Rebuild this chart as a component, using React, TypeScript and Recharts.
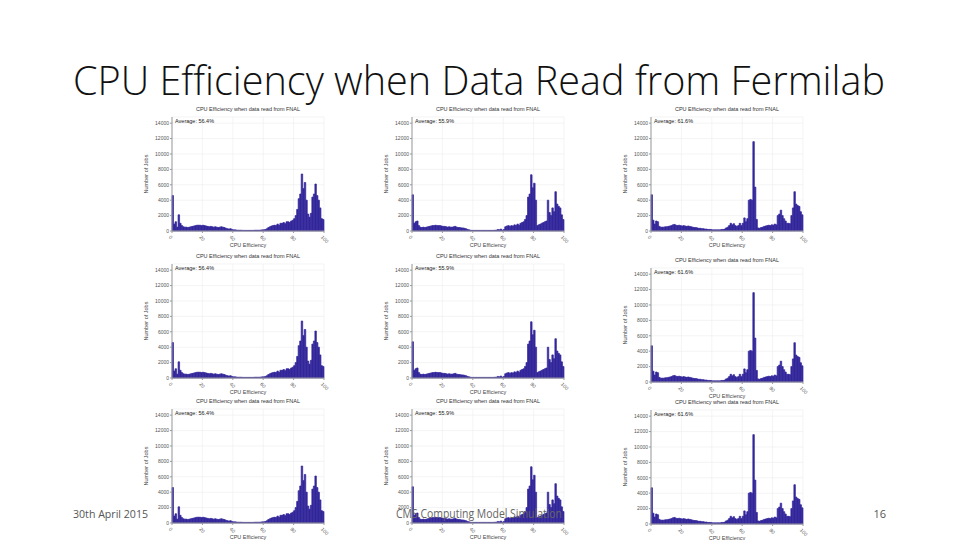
import React from 'react';
import { BarChart, Bar, XAxis, YAxis, CartesianGrid } from 'recharts';

const binCenters = Array.from({ length: 100 }, (_, i) => i + 0.5);
const xTicks = [0, 20, 40, 60, 80, 100];
const yTicks = [0, 2000, 4000, 6000, 8000, 10000, 12000, 14000];

const jobsCol1 = [
  4600, 900, 1200, 500, 2100, 1000, 700, 550, 500, 500,
  450, 500, 550, 600, 650, 700, 750, 750, 750, 700,
  750, 700, 650, 600, 550, 600, 550, 500, 550, 500,
  450, 500, 550, 500, 450, 350, 300, 250, 300, 200,
  150, 150, 120, 100, 100, 100, 80, 80, 80, 80,
  80, 80, 80, 80, 100, 100, 100, 100, 120, 150,
  150, 200, 300, 450, 550, 650, 700, 750, 700, 900,
  750, 1000, 1000, 1100, 950, 1200, 1200, 1100, 1300, 1400,
  1600, 2000, 2800, 4200, 4800, 7400, 5500, 6300, 4000, 2200,
  1800, 2300, 4400, 4800, 6100, 4600, 4000, 3000, 1600, 1500,
];

const jobsCol2 = [
  4700, 1000, 1200, 1300, 700, 500, 450, 500, 450, 500,
  550, 600, 650, 700, 700, 750, 700, 700, 700, 650,
  600, 600, 550, 500, 550, 500, 500, 550, 600, 500,
  450, 450, 400, 400, 350, 300, 200, 150, 100, 80,
  80, 80, 80, 80, 80, 80, 80, 80, 80, 80,
  80, 80, 80, 80, 100, 100, 200, 150, 250, 100,
  200, 550, 650, 700, 600, 700, 650, 800, 700, 900,
  750, 1000, 1100, 1200, 1500, 2000, 4400, 4800, 7300, 5600,
  6200, 4000, 700, 800, 900, 1000, 1100, 1200, 1300, 4000,
  2400, 2000, 3000, 2500, 5100, 3500, 3200, 3000, 2100, 1500,
];

const jobsCol3 = [
  4700, 1400, 900, 1300, 1200, 600, 500, 500, 500, 550,
  550, 600, 650, 700, 800, 850, 750, 700, 750, 700,
  650, 700, 650, 600, 650, 600, 550, 500, 450, 450,
  400, 350, 350, 300, 300, 250, 250, 200, 200, 200,
  150, 150, 150, 150, 150, 150, 200, 200, 250, 400,
  500, 700, 1000, 800, 950, 700, 600, 700, 1000, 700,
  1000, 1700, 1200, 1600, 4000, 4100, 4000, 11600, 5700, 1500,
  400, 350, 450, 500, 600, 650, 700, 750, 700, 800,
  750, 900, 800, 2000, 2200, 2700, 2000, 1600, 1300, 1000,
  1000, 950, 2000, 3000, 5100, 3500, 3300, 3200, 2500, 2100,
];

const averages = ['Average: 56.4%', 'Average: 55.9%', 'Average: 61.6%'];
const panelTitle = 'CPU Efficiency when data read from FNAL';
const xLabel = 'CPU Efficiency';
const yLabel = 'Number of Jobs';
const slideTitle = 'CPU Efficiency when Data Read from Fermilab';
const footerDate = '30th April 2015';
const footerCenter = 'CMS Computing Model Simulation';
const footerPage = '16';

const columns = [jobsCol1, jobsCol2, jobsCol3];
const colLeft = [172, 412, 651];
const rowTops = [
  [117, 264, 409],
  [117, 264, 409],
  [117, 268, 410],
];

const PLOT_W = 152;
const PLOT_H = 114;
const ML = 36;
const MT = 18;
const MR = 16;
const MB = 24;
const BAR = '#33279b';
const FONT = '"Liberation Sans", Arial, sans-serif';
const tickStyle = { fontSize: 5, fill: '#555', fontFamily: FONT };

function Panel({ values, avg, left, top }: { values: number[]; avg: string; left: number; top: number }) {
  const data = binCenters.map((x, i) => ({ x, n: values[i] }));
  return (
    <div style={{ position: 'absolute', left: left - ML, top: top - MT, width: ML + PLOT_W + MR, height: MT + PLOT_H + MB }}>
      <div style={{ position: 'absolute', left: ML, width: PLOT_W, top: MT - 11, textAlign: 'center', fontSize: 5.5, fontFamily: FONT, color: '#333', whiteSpace: 'nowrap' }}>{panelTitle}</div>
      <BarChart width={ML + PLOT_W + MR} height={MT + PLOT_H + MB} data={data} margin={{ top: MT, right: MR, bottom: 0, left: 0 }}>
        <CartesianGrid stroke="#ececec" strokeWidth={0.6} />
        <XAxis dataKey="x" type="number" domain={[0, 100]} ticks={xTicks} interval={0} height={MB} stroke="#999" tickSize={2}
          tick={{ ...tickStyle, angle: 45, textAnchor: 'start', dx: -1 }}
          label={{ value: xLabel, position: 'insideBottom', offset: 8, style: { fontSize: 5.5, fill: '#444', fontFamily: FONT } }} />
        <XAxis xAxisId="top" orientation="top" type="number" domain={[0, 100]} height={0} tick={false} tickLine={false} stroke="#999" />
        <YAxis type="number" domain={[0, 14800]} ticks={yTicks} interval={0} width={ML} stroke="#999" tickSize={2} tickMargin={1} tick={tickStyle}
          label={{ value: yLabel, angle: -90, position: 'insideLeft', offset: 10, style: { textAnchor: 'middle', fontSize: 5.5, fill: '#444', fontFamily: FONT } }} />
        <YAxis yAxisId="right" orientation="right" type="number" domain={[0, 14800]} width={0} tick={false} tickLine={false} stroke="#999" />
        <Bar dataKey="n" fill={BAR} stroke={BAR} strokeWidth={0.7} barSize={1.5} isAnimationActive={false} />
      </BarChart>
      <div style={{ position: 'absolute', left: ML + 3, top: MT + 1, fontSize: 5.5, fontFamily: FONT, color: '#222', whiteSpace: 'nowrap' }}>{avg}</div>
    </div>
  );
}

export default function App() {
  const panels: React.ReactNode[] = [];
  columns.forEach((vals, c) => {
    rowTops[c].forEach((t, r) => {
      panels.push(<Panel key={`${c}-${r}`} values={vals} avg={averages[c]} left={colLeft[c]} top={t} />);
    });
  });
  return (
    <div style={{ position: 'absolute', left: 0, top: 0, width: 960, height: 540, background: '#fff', overflow: 'hidden' }}>
      {panels}
      <svg width={960} height={540} style={{ position: 'absolute', left: 0, top: 0, pointerEvents: 'none' }}>
        <text x={73} y={95} fontSize={40} fontWeight={300} fontFamily='"Open Sans", sans-serif' fill="#111" textLength={812} lengthAdjust="spacingAndGlyphs">{slideTitle}</text>
        <text x={73} y={518} fontSize={11} fontFamily='"Open Sans", sans-serif' fill="#555" textLength={75} lengthAdjust="spacingAndGlyphs">{footerDate}</text>
        <text x={396} y={518} fontSize={12} fontFamily='"Open Sans", sans-serif' fill="#666" textLength={166} lengthAdjust="spacingAndGlyphs">{footerCenter}</text>
        <text x={886} y={518} fontSize={11} fontFamily='"Open Sans", sans-serif' fill="#555" textAnchor="end">{footerPage}</text>
      </svg>
    </div>
  );
}
